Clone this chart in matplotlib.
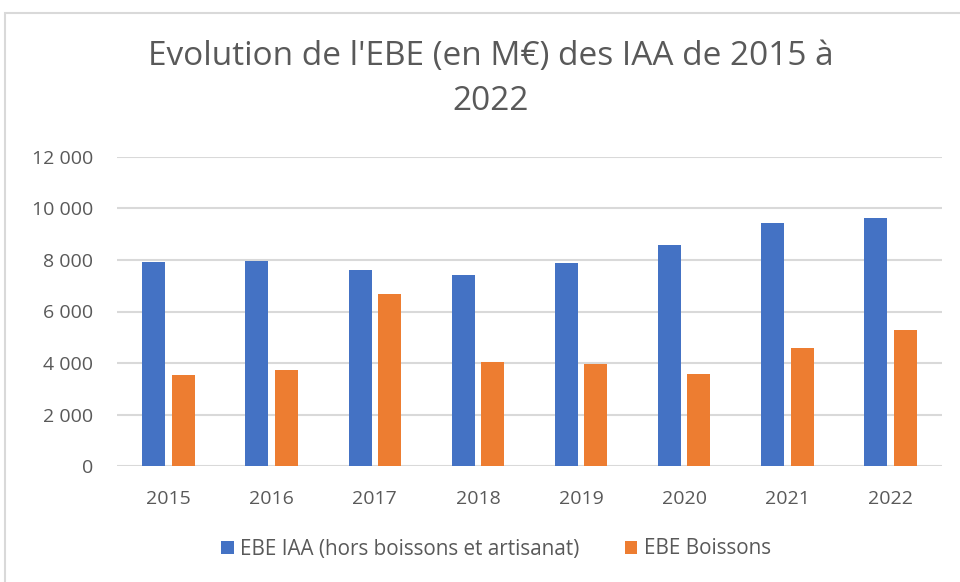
import numpy as np
import matplotlib.pyplot as plt
from matplotlib.patches import Rectangle
from matplotlib.ticker import FuncFormatter

years = ['2015', '2016', '2017', '2018', '2019', '2020', '2021', '2022']
ebe_iaa = [7930, 7980, 7630, 7420, 7880, 8580, 9440, 9620]
ebe_boissons = [3530, 3720, 6670, 4020, 3970, 3580, 4580, 5270]
series_names = ['EBE IAA (hors boissons et artisanat)', 'EBE Boissons']

plt.rcParams['font.family'] = ['Open Sans', 'DejaVu Sans']
W, H = 960, 582
fig = plt.figure(figsize=(W / 100, H / 100), dpi=100)

# chart frame
fig.patches.append(Rectangle((5 / W, -0.1), 1.2, (H - 13) / H + 0.1, transform=fig.transFigure,
                             fill=False, edgecolor='#d9d9d9', linewidth=1.5))

ax = fig.add_axes([117 / W, (H - 466) / H, (942 - 117) / W, (466 - 157) / H])
x = np.arange(len(years))
w = 0.223
off = w / 2 + 0.031
ax.bar(x - off, ebe_iaa, w, color='#4472c4', label=series_names[0], zorder=3)
ax.bar(x + off, ebe_boissons, w, color='#ed7d31', label=series_names[1], zorder=3)

ax.set_xlim(-0.5, len(years) - 0.5)
ax.set_ylim(0, 12000)
ax.set_yticks(range(0, 12001, 2000))
ax.yaxis.set_major_formatter(FuncFormatter(lambda v, p: f'{int(v):,}'.replace(',', ' ')))
ax.set_xticks(x)
ax.set_xticklabels(years)
ax.grid(axis='y', color='#d9d9d9', linewidth=1.5, zorder=0)
for s in ax.spines.values():
    s.set_visible(False)
ax.tick_params(length=0, labelsize=14, colors='#595959')
ax.tick_params(axis='y', pad=17)
ax.tick_params(axis='x', pad=17)

fig.text(491 / W, 1 - 57 / H, "Evolution de l'EBE (en M€) des IAA de 2015 à", ha='center', va='center',
         fontsize=24, color='#595959')
fig.text(491 / W, 1 - 101 / H, "2022", ha='center', va='center', fontsize=24, color='#595959')

fig.legend(loc='center', bbox_to_anchor=(496 / W, 1 - 549 / H), ncol=2, frameon=False,
           fontsize=14.9, labelcolor='#595959', handlelength=0.6, handleheight=0.6,
           handletextpad=0.3, columnspacing=2.2)

fig.savefig('out.png', dpi=100)
